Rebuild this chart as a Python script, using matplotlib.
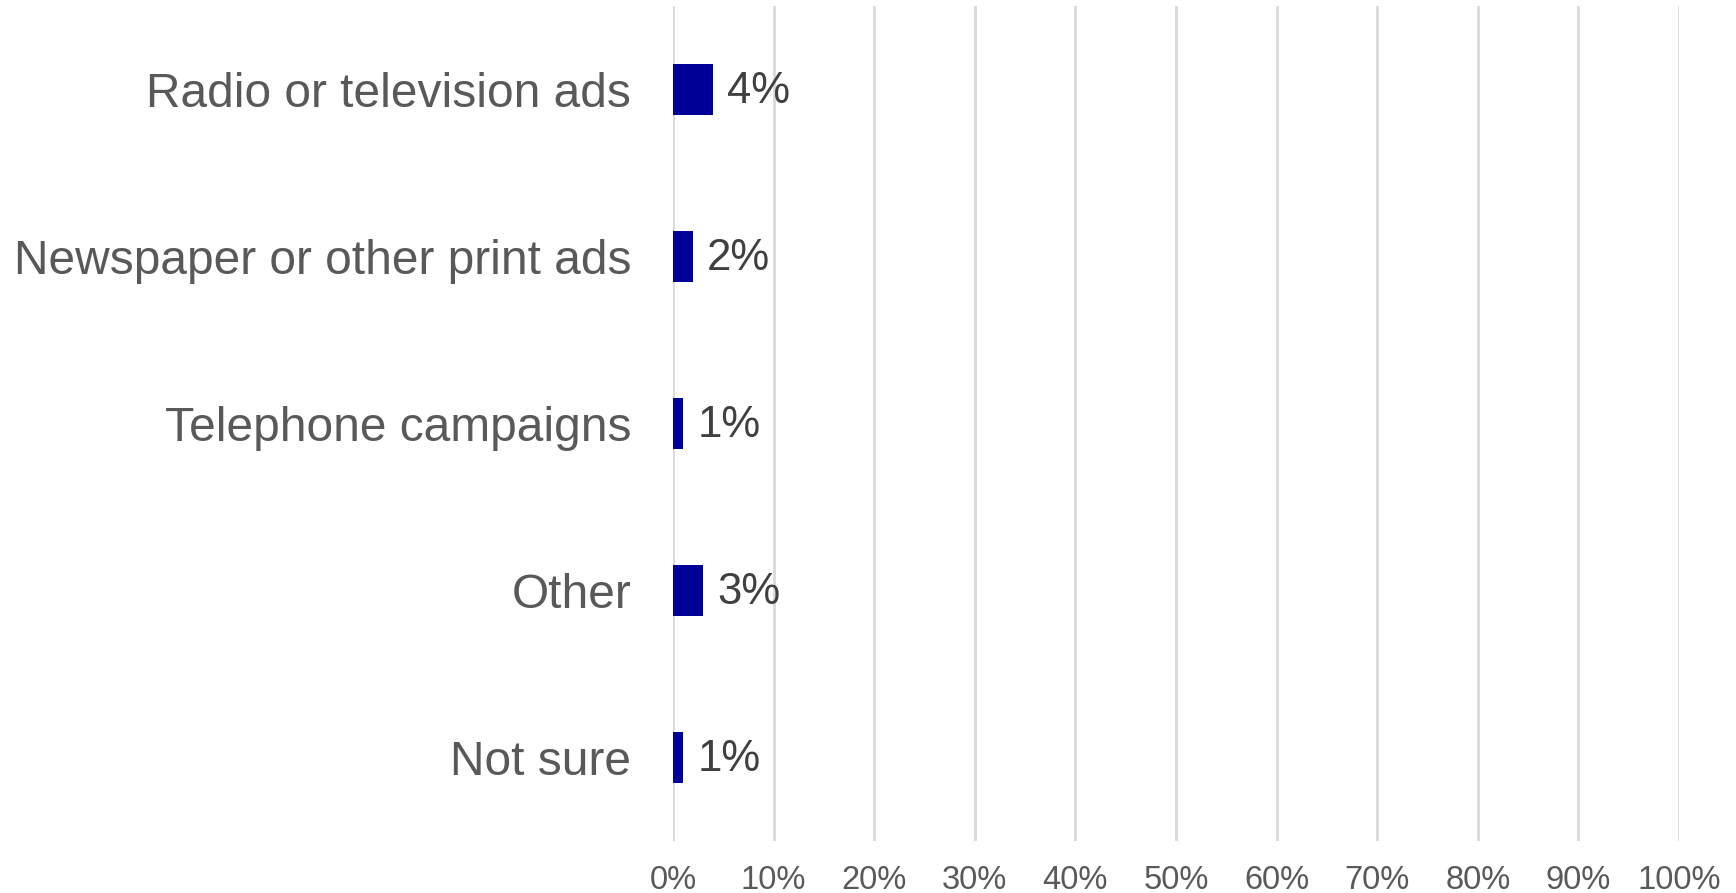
import matplotlib.pyplot as plt
from matplotlib.ticker import FuncFormatter

plt.rcParams['font.family'] = ['Liberation Sans', 'DejaVu Sans']

categories = ['Radio or television ads', 'Newspaper or other print ads',
              'Telephone campaigns', 'Other', 'Not sure']
values = [4, 2, 1, 3, 1]
ticks = [0, 10, 20, 30, 40, 50, 60, 70, 80, 90, 100]

fig = plt.figure(figsize=(17.36, 8.93), dpi=100)
ax = fig.add_axes([673 / 1736, 1 - 841 / 893, 1006 / 1736, 835 / 893])

y = list(range(len(categories)))
ax.barh(y, values, height=0.31, color='#000099', zorder=3)
for yi, v in zip(y, values):
    ax.text(v + 1.4, yi + 0.01, f'{v}%', va='center', ha='left', fontsize=31.5, color='#404040')

ax.set_yticks(y)
ax.set_yticklabels(categories, fontsize=34.5, color='#595959')
ax.set_ylim(len(categories) - 0.5, -0.5)
ax.set_xlim(0, 100)
ax.set_xticks(ticks)
ax.xaxis.set_major_formatter(FuncFormatter(lambda x, p: f'{int(x)}%'))
ax.tick_params(axis='x', labelsize=23.5, labelcolor='#595959', length=0, pad=17)
ax.tick_params(axis='y', length=0, pad=30)
ax.grid(axis='x', color='#d9d9d9', linewidth=2, zorder=0)
for s in ax.spines.values():
    s.set_visible(False)

fig.savefig('out.png', dpi=100)
